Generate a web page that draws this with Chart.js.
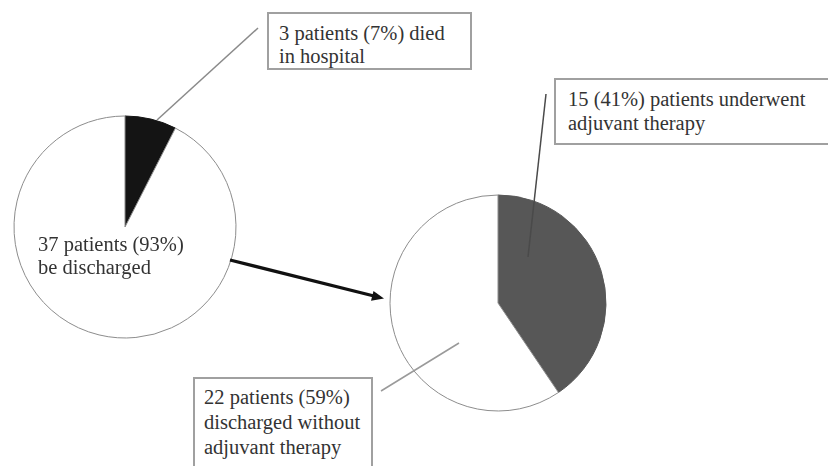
<!DOCTYPE html>
<html>
<head>
<meta charset="utf-8">
<script src="https://cdn.jsdelivr.net/npm/chart.js@4"></script>
<style>
  html, body { margin: 0; padding: 0; background: #fff; }
  #stage { position: relative; width: 828px; height: 466px; overflow: hidden; background: #fff; color: #333; }
  canvas.pie { position: absolute; }
  #pieLeft { left: 12px; top: 114px; }
  #pieRight { left: 388px; top: 193px; }
  .note { position: absolute; white-space: nowrap; }
  .box { border: 2px solid #a0a0a0; background: #fff; box-sizing: border-box; }
  #noteDied { left: 267px; top: 12px; width: 205px; height: 58px; padding: 8px 0 0 10px; line-height: 23px; }
  #noteAdj { left: 554px; top: 78px; width: 290px; height: 67px; padding: 7px 0 0 12px; line-height: 24px; }
  #noteNoAdj { left: 193px; top: 377px; width: 180px; height: 110px; padding: 6px 0 0 9px; line-height: 25px; }
  #noteDischarged { left: 38px; top: 233px; line-height: 23px; }
  svg#links { position: absolute; left: 0; top: 0; pointer-events: none; }
</style>
</head>
<body>
<div id="stage">
  <canvas id="pieLeft" class="pie" width="226" height="226"></canvas>
  <canvas id="pieRight" class="pie" width="220" height="220"></canvas>

  <div id="noteDied" class="note box"></div>
  <div id="noteAdj" class="note box"></div>
  <div id="noteNoAdj" class="note box"></div>
  <div id="noteDischarged" class="note"></div>

  <svg id="links" width="828" height="466">
    <line x1="258" y1="28" x2="157" y2="120" stroke="#8a8a8a" stroke-width="1.5"/>
    <line x1="546" y1="94" x2="528" y2="257" stroke="#4a4a4a" stroke-width="1.5"/>
    <line x1="381" y1="391" x2="459" y2="343" stroke="#9a9a9a" stroke-width="1.5"/>
    <line x1="230" y1="260" x2="374" y2="296" stroke="#111" stroke-width="3.2"/>
    <polygon points="384,298.5 371,300.8 373.5,291" fill="#111"/>
  </svg>
</div>

<script>
// Outcome of all patients: died in hospital vs discharged
const outcomeLabels = ['Died in hospital', 'Discharged'];
const outcomeCounts = [3, 37];
const outcomePercents = [7, 93];

// Discharged patients: adjuvant therapy vs none
const dischargeLabels = ['Adjuvant therapy', 'No adjuvant therapy'];
const dischargeCounts = [15, 22];
const dischargePercents = [41, 59];

const noteFont = '"Liberation Serif", "Times New Roman", serif';

const noteLines = {
  noteDied: [outcomeCounts[0] + ' patients (' + outcomePercents[0] + '%) died', 'in hospital'],
  noteDischarged: [outcomeCounts[1] + ' patients (' + outcomePercents[1] + '%)', 'be discharged'],
  noteAdj: [dischargeCounts[0] + ' (' + dischargePercents[0] + '%) patients underwent', 'adjuvant therapy'],
  noteNoAdj: [dischargeCounts[1] + ' patients (' + dischargePercents[1] + '%)', 'discharged without', 'adjuvant therapy']
};
for (const id in noteLines) {
  const el = document.getElementById(id);
  noteLines[id].forEach(t => {
    const d = document.createElement('div');
    d.textContent = t;
    d.style.fontFamily = noteFont;
    d.style.fontSize = '20.5px';
    d.style.color = '#333';
    el.appendChild(d);
  });
}

function pieOptions(radius) {
  return {
    responsive: false,
    animation: false,
    radius: radius,
    layout: { padding: 0 },
    plugins: { legend: { display: false }, tooltip: { enabled: false } },
    events: []
  };
}

new Chart(document.getElementById('pieLeft'), {
  type: 'pie',
  data: {
    labels: outcomeLabels,
    datasets: [{
      data: outcomeCounts,
      backgroundColor: ['#141414', '#ffffff'],
      borderColor: ['#141414', '#8c8c8c'],
      borderWidth: 1
    }]
  },
  options: pieOptions(111)
});

new Chart(document.getElementById('pieRight'), {
  type: 'pie',
  data: {
    labels: dischargeLabels,
    datasets: [{
      data: dischargeCounts,
      backgroundColor: ['#575757', '#ffffff'],
      borderColor: ['#575757', '#8c8c8c'],
      borderWidth: 1
    }]
  },
  options: pieOptions(108)
});
</script>
</body>
</html>
